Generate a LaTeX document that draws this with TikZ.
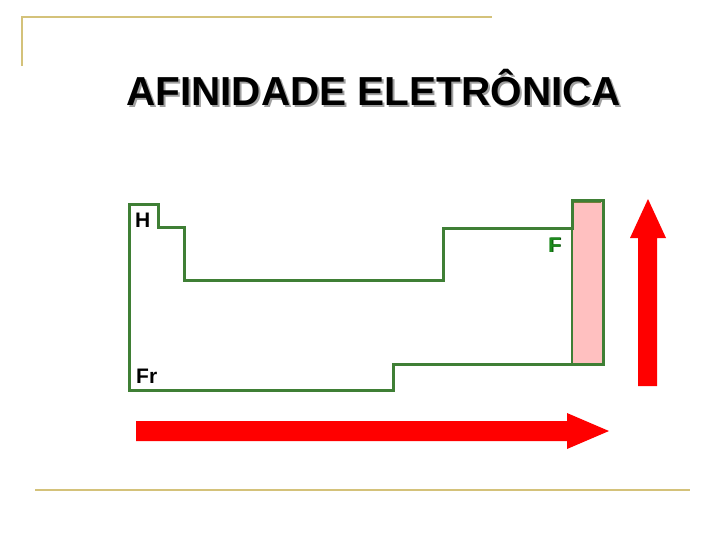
\documentclass[tikz,border=0pt]{standalone}
\usepackage{fontspec}
\setmainfont{Liberation Sans}
\definecolor{gold}{HTML}{D4C27A}
\definecolor{tablegreen}{HTML}{3F7F35}
\definecolor{pinkfill}{HTML}{FFC0C0}
\definecolor{shadowgray}{HTML}{A0A0A0}
\definecolor{fgreen}{HTML}{1E8A1E}
\tikzset{
  rule/.style={draw=gold, line width=1.3pt},
  outline/.style={draw=tablegreen, line width=3pt, line join=miter},
  symb/.style={font=\bfseries\fontsize{21}{21}\selectfont, inner sep=0pt, anchor=base west},
  titlefont/.style={font=\bfseries\fontsize{40.5}{40.5}\selectfont, anchor=base west, inner sep=0pt},
  bigarrow/.style={fill=red, draw=none}
}
\begin{document}
\begin{tikzpicture}[x=1pt,y=-1pt]
\useasboundingbox (0,0) rectangle (728,546);
% frame rules
\draw[rule] (22,66) -- (22,17) -- (492,17);
\draw[rule] (35,490) -- (690,490);
% title
\node[titlefont, text=shadowgray] (titleshadow) at (128,107) {AFINIDADE ELETRÔNICA};
\node[titlefont] (title) at (126,105) {AFINIDADE ELETRÔNICA};
% pink group 17
\fill[pinkfill] (572,201) rectangle (602,363);
\draw[draw=tablegreen!60!brown, line width=2pt] (573,202) -- (601,202);
% table outline
\draw[outline] (129,390) -- (129,204) -- (158,204) -- (158,227) -- (184,227) -- (184,280)
  -- (443,280) -- (443,228) -- (572,228) -- (572,200) -- (603,200) -- (603,364)
  -- (393,364) -- (393,390) -- cycle;
\draw[draw=tablegreen, line width=1.5pt] (572,228) -- (572,364);
% labels
\node[symb] (H) at (135,227) {H};
\node[symb] (Fr) at (136,383) {Fr};
\node[symb, text=black!70!green] (Fsh) at (548.8,252.8) {F};
\node[symb, text=fgreen] (F) at (548,252) {F};
% arrows
\fill[bigarrow] (136,421) -- (567,421) -- (567,413) -- (609,431) -- (567,449) -- (567,441) -- (136,441) -- cycle;
\fill[bigarrow] (638,386) -- (638,238) -- (630,238) -- (648,199) -- (666,238) -- (657,238) -- (657,386) -- cycle;
\end{tikzpicture}
\end{document}
